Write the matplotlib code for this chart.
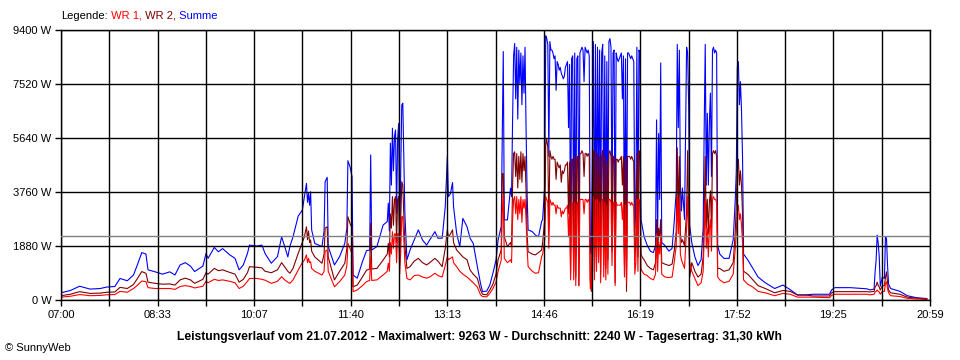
import matplotlib
matplotlib.use("Agg")
import matplotlib.pyplot as plt

# minutes after 07:00 and power in W
minutes = [
    0, 9, 18, 28, 38, 44, 52, 57, 64, 70, 74, 78, 82, 84, 91, 98, 105, 110, 115, 120,
    125, 129, 137, 140, 142, 148, 152, 156, 163, 168, 172, 176, 180, 182, 189, 194, 197, 203, 209, 213,
    216, 219, 221, 224, 229, 233, 235, 237, 238, 239, 240, 241, 242, 245, 252, 254, 255, 257, 258, 264,
    269, 274, 276, 277, 279, 281, 282, 286, 291, 295, 298, 299, 300, 305, 311, 315, 316, 317, 318, 319,
    320, 321, 322, 323, 324, 325, 326, 327, 328, 329, 330, 332, 334, 337, 341, 345, 349, 353, 356, 361,
    364, 368, 371, 373, 374, 376, 378, 379, 382, 385, 388, 392, 395, 398, 402, 405, 407, 411, 414, 417,
    420, 422, 425, 426, 427, 428, 431, 434, 435, 436, 437, 438, 439, 440, 441, 442, 443, 444, 445, 446,
    447, 448, 449, 450, 451, 455, 458, 461, 464, 465, 467,
    468, 469, 470, 471, 472, 473, 474, 475, 476, 477, 478, 479, 480, 481, 482, 483, 484, 485, 486, 487,
    488, 489, 490, 491, 492, 493, 494, 495, 496, 497, 498, 499, 500, 501, 502, 503, 504, 505, 506, 507,
    508, 509, 510, 511, 512, 513, 514, 515, 516, 517, 518, 519, 520, 521, 522, 523, 524, 525, 526, 527,
    528, 529, 530, 531, 532, 533, 534, 535, 536, 537, 538, 539, 540, 541, 542, 543, 544, 545, 546, 547,
    548, 549, 550, 551, 552, 553, 554, 555, 556, 557, 558, 559, 560, 561,
    563, 566, 569, 572, 574, 575, 576, 577, 578, 579, 580, 583, 587, 590, 592, 594, 595, 596, 597, 598,
    599, 600, 602, 604, 605, 606, 607, 609, 612, 615, 618, 620, 621, 622, 623, 624, 625, 626, 627, 628,
    629, 630, 631, 632, 633, 634, 636, 640, 645, 649, 651, 652, 653, 654, 655, 656, 657, 658, 659, 663,
    668, 673, 680, 689, 697, 704, 711, 720, 726, 742, 744, 747, 762, 778, 781, 785, 786, 787, 788, 789,
    790, 791, 793, 795, 796, 797, 798, 799, 801, 810, 817, 826, 836,
]

summe = [
    250, 330, 480, 380, 400, 450, 470, 750, 670, 870, 1250, 1650, 1600, 1050, 980, 900, 980, 870, 1220, 1300,
    1180, 990, 1180, 1620, 1450, 1830, 1680, 1790, 1570, 1450, 1050, 1220, 1620, 1910, 1880, 1910, 1620, 1280, 1510, 2200,
    1860, 1500, 1870, 2200, 2920, 3130, 3600, 4060, 3400, 3710, 3300, 3770, 2440, 1970, 1860, 2400, 4120, 4270, 1860, 1220,
    1510, 1970, 2500, 4850, 4640, 4290, 870, 760, 1330, 1720, 1740, 5050, 1740, 1860, 2610, 2730, 3370, 2400, 5460, 4000,
    5980, 4500, 5700, 5920, 3000, 5600, 6150, 1860, 4500, 6790, 6850, 3000, 1400, 1740, 2090, 2440, 2090, 1910, 2090, 2380,
    2150, 2150, 3250, 4990, 3600, 3700, 4090, 3250, 2320, 1860, 2840, 2550, 2150, 1970, 1160, 580, 290, 310, 520, 930,
    1390, 2090, 2550, 5690, 8650, 2790, 2790, 3890, 3600, 6270, 8500, 8930, 7000, 8800, 6300, 8700, 7500, 8600, 6800, 8500,
    7200, 8800, 6000, 3710, 2440, 2380, 2260, 2200, 2730, 2800, 3950,
    9200, 9100, 8900, 5000, 9000, 8700, 8700, 8600, 8400, 8500, 7300, 8300, 8200, 8000, 8100, 7900, 7800, 7700, 7800, 8100,
    8200, 8300, 6000, 8200, 1700, 8400, 8500, 2000, 8600, 1500, 8400, 8500, 1400, 8600, 8700, 8800, 8700, 7600, 8800, 8700,
    8600, 8700, 8500, 1800, 1600, 5000, 9000, 1500, 8900, 2500, 8800, 3500, 8700, 1800, 8600, 8900, 2200, 8500, 1900, 8300,
    2500, 9000, 9100, 8800, 3000, 8600, 8700, 1600, 8600, 8400, 8300, 8400, 8500, 8600, 7000, 8500, 1600, 8400, 1800, 8600,
    8600, 8500, 8400, 8500, 8400, 8300, 2500, 3200, 8800, 2500, 8700, 8600, 2800, 2600,
    2200, 1900, 1700, 1650, 1900, 6270, 2200, 5800, 3500, 8250, 2000, 1900, 1700, 1800, 2700, 3800, 8900, 6000, 8700, 4000,
    3100, 3900, 2800, 8800, 8600, 6800, 2600, 2000, 1500, 1200, 1400, 2500, 6000, 8900, 4000, 6500, 4000, 6200, 7200, 4300,
    8700, 8800, 8600, 8700, 8600, 1900, 1600, 1450, 1450, 2100, 3500, 4500, 8100, 8300, 6800, 7600, 6600, 5000, 1600, 1400,
    1100, 800, 600, 400, 520, 360, 180, 180, 200, 200, 350, 430, 430, 390, 350, 380, 980, 1400, 2260, 1970,
    1500, 480, 800, 750, 2200, 2150, 1200, 550, 400, 300, 150, 80, 50,
]

wr2 = [
    150, 200, 290, 230, 240, 270, 280, 440, 400, 540, 760, 990, 930, 620, 580, 550, 560, 520, 700, 760,
    700, 580, 720, 950, 900, 1100, 1020, 1050, 960, 900, 620, 720, 950, 1160, 1140, 1120, 1000, 950, 1050, 1300,
    1150, 1000, 930, 1100, 1620, 2000, 2200, 2550, 2100, 2400, 2000, 2090, 1700, 1500, 1280, 1600, 2500, 2550, 1500, 700,
    1000, 1280, 1800, 2900, 2670, 2500, 460, 520, 800, 1040, 1080, 2670, 1080, 1100, 1390, 1600, 1970, 1500, 3000, 2500,
    3600, 2600, 3500, 3600, 2000, 3500, 3600, 1300, 2800, 4120, 4000, 1900, 1100, 1160, 1350, 1450, 1300, 1220, 1300, 1450,
    1350, 1160, 1800, 2440, 2200, 2300, 2440, 2000, 1740, 1620, 1500, 1400, 1040, 900, 750, 350, 200, 180, 350, 550,
    900, 1400, 1740, 4400, 4400, 2200, 1860, 2000, 1860, 4000, 5100, 5160, 4300, 5100, 3900, 5000, 4200, 5160, 4100, 5100,
    4500, 5000, 3800, 2300, 1680, 1600, 1570, 1650, 1740, 2000, 2790,
    5400, 5600, 5300, 2500, 5200, 5000, 4900, 5000, 4900, 4900, 4200, 4800, 4700, 4600, 4700, 4100, 4500, 4400, 4500, 4700,
    4700, 4800, 3000, 4800, 900, 4900, 4900, 1000, 5000, 800, 4900, 5000, 500, 5100, 5100, 5200, 5100, 4300, 5100, 5100,
    5000, 5100, 5000, 700, 300, 3000, 5200, 1000, 5200, 1500, 5100, 1900, 5000, 900, 5000, 5200, 1200, 5000, 1100, 4800,
    1400, 5100, 5200, 5000, 1700, 5000, 5000, 600, 4900, 4900, 4800, 4900, 4900, 5000, 4000, 5000, 1200, 4900, 300, 5000,
    5000, 5000, 4900, 5000, 4900, 4800, 1400, 2000, 5100, 1500, 5200, 5000, 1600, 1500,
    1400, 1200, 1100, 1050, 1300, 2800, 1500, 2500, 2200, 2800, 1300, 1250, 1200, 1250, 1700, 2400, 5300, 3000, 5000, 2300,
    2000, 2100, 1900, 3100, 5200, 3000, 800, 1300, 1000, 800, 900, 1500, 3000, 5000, 2500, 3500, 2300, 3400, 3800, 2500,
    5100, 5200, 5100, 5200, 5000, 1100, 1100, 1000, 1050, 1300, 2400, 3300, 4800, 4900, 4000, 4500, 4000, 3000, 1000, 900,
    700, 500, 400, 250, 330, 300, 170, 170, 140, 140, 250, 290, 290, 290, 280, 300, 450, 500, 620, 500,
    450, 350, 500, 500, 800, 980, 600, 350, 250, 200, 100, 60, 40,
]

wr1 = [
    100, 130, 190, 150, 160, 180, 190, 300, 270, 400, 520, 660, 640, 430, 400, 400, 400, 370, 470, 500,
    470, 420, 480, 650, 600, 720, 680, 700, 650, 600, 400, 480, 650, 750, 750, 720, 690, 580, 650, 810,
    700, 620, 580, 700, 1040, 1300, 1390, 1570, 1300, 1450, 1300, 1330, 1100, 1000, 870, 1000, 1700, 1740, 1000, 460,
    640, 870, 1200, 1970, 1800, 1600, 290, 350, 500, 640, 680, 1500, 680, 700, 870, 1000, 1280, 1000, 2000, 1600,
    2380, 1800, 2300, 2300, 1300, 2300, 2320, 900, 1700, 2900, 2900, 1300, 750, 700, 850, 870, 800, 760, 800, 930,
    850, 800, 1200, 1510, 1400, 1450, 1500, 1300, 1160, 1000, 900, 800, 700, 600, 450, 180, 120, 110, 230, 400,
    620, 1000, 1390, 3000, 3700, 1450, 1300, 1400, 1300, 2800, 3500, 3600, 3000, 3600, 2800, 3500, 3000, 3600, 2700, 3500,
    3200, 3500, 2785, 1800, 1160, 1000, 930, 950, 1500, 1600, 2090,
    3600, 3500, 3400, 1800, 3500, 3400, 3300, 3400, 3300, 3300, 3000, 3300, 3200, 3200, 3200, 2900, 3100, 3000, 3100, 3200,
    3200, 3300, 2200, 3200, 700, 3300, 3400, 700, 3400, 500, 3300, 3400, 500, 3500, 3500, 3500, 3500, 3000, 3500, 3500,
    3400, 3500, 3400, 400, 400, 2000, 3600, 700, 3500, 1000, 3500, 1300, 3400, 600, 3400, 3500, 800, 3400, 700, 3300,
    900, 3500, 3500, 3400, 1200, 3400, 3400, 500, 3400, 3300, 3300, 3300, 3300, 3400, 2800, 3400, 800, 3300, 600, 3400,
    3400, 3400, 3300, 3400, 3300, 3300, 900, 1300, 3500, 1000, 3500, 3400, 1100, 1000,
    900, 850, 750, 700, 900, 2300, 1000, 2000, 1600, 2300, 900, 800, 780, 800, 1300, 1900, 3600, 2300, 3500, 1600,
    1400, 1300, 1100, 2500, 3600, 2300, 1300, 1000, 750, 500, 600, 1000, 2200, 3500, 1800, 2500, 1500, 2500, 2800, 1700,
    3500, 3600, 3500, 3500, 3400, 800, 700, 600, 650, 900, 1800, 2400, 3200, 3300, 2800, 3000, 2600, 2000, 700, 550,
    450, 300, 250, 150, 230, 200, 100, 100, 100, 80, 160, 200, 200, 200, 180, 200, 280, 300, 350, 300,
    280, 200, 300, 300, 600, 630, 400, 250, 150, 120, 60, 40, 20,
]

x_labels = ["07:00", "08:33", "10:07", "11:40", "13:13", "14:46", "16:19", "17:52", "19:25", "20:59"]
y_values = [0, 1880, 3760, 5640, 7520, 9400]
average = 2240
title = ("Leistungsverlauf vom 21.07.2012 - Maximalwert: 9263 W - "
         "Durchschnitt: 2240 W - Tagesertrag: 31,30 kWh")

plt.rcParams["font.family"] = ["Liberation Sans", "DejaVu Sans"]

fig = plt.figure(figsize=(9.6, 3.6), dpi=100)
ax = fig.add_axes([61 / 960, 60 / 360, 869 / 960, 270 / 360])

span = 839
grid_x = [span * i / 18 for i in range(19)]

# data first, grid and average line drawn over it like in the original
ax.plot(minutes, summe, color="#0000ff", lw=0.8, zorder=2.0)
ax.plot(minutes, wr2, color="#800000", lw=0.8, zorder=2.1)
ax.plot(minutes, wr1, color="#ff0000", lw=0.8, zorder=2.2)
ax.axhline(average, color="#808080", lw=1.0, zorder=2.6)

ax.set_xlim(0, span)
ax.set_ylim(0, 9400)
ax.set_xticks(grid_x)
ax.set_xticklabels([x_labels[j // 2] if j % 2 == 0 else "" for j in range(19)])
ax.set_yticks(y_values)
ax.set_yticklabels([f"{v} W" for v in y_values])
ax.set_axisbelow(False)
ax.grid(True, color="black", lw=1.0)
for s in ax.spines.values():
    s.set_color("black")
    s.set_linewidth(1.0)
ax.tick_params(axis="both", direction="out", length=4, width=1.0, labelsize=8, color="black")
ax.tick_params(axis="x", pad=3)
ax.tick_params(axis="y", pad=3)

# legend line at the top
fig.canvas.draw()
r = fig.canvas.get_renderer()
xpos = 61 / 960
for part, col in [("Legende:", "black"), (" WR 1,", "#ff0000"), (" WR 2,", "#800000"), (" Summe", "#0000ff")]:
    t = fig.text(xpos, 1 - 16 / 360, part, color=col, fontsize=8, va="center", ha="left")
    bb = t.get_window_extent(r)
    xpos = bb.x1 / fig.bbox.width

fig.text(0.4995, 1 - 337 / 360, title, fontsize=8.7, fontweight="bold", ha="center", va="center")
fig.text(5 / 960, 1 - 348 / 360, "\u00a9 SunnyWeb", fontsize=8, ha="left", va="center")

fig.savefig("out.png", dpi=100)
